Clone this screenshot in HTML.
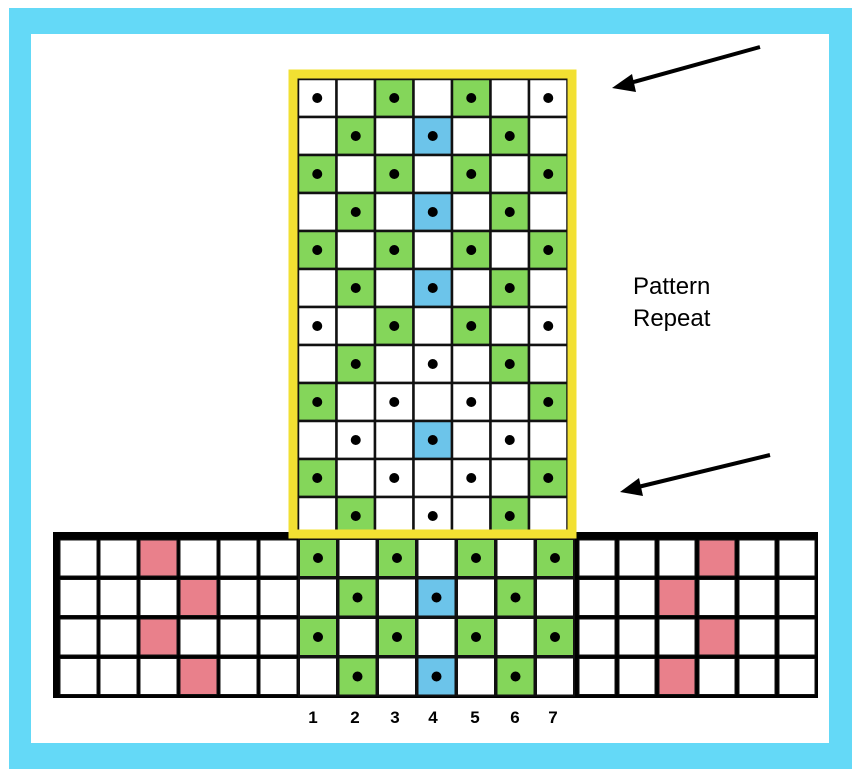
<!DOCTYPE html>
<html><head><style>body{margin:0;background:#fff;width:866px;height:778px;overflow:hidden}</style></head><body>
<svg width="866" height="778" xmlns="http://www.w3.org/2000/svg">
<rect x="9" y="8" width="843" height="761" fill="#64d9f7"/>
<rect x="31" y="34" width="798" height="709" fill="#fff"/>
<rect x="53" y="532" width="765" height="166" fill="#000"/>
<g id="cells"></g>
<rect x="293" y="74" width="279" height="460" fill="none" stroke="#f2e032" stroke-width="9"/>
<g font-family="Liberation Sans, sans-serif" font-weight="bold" font-size="17" text-anchor="middle">
<text x="313" y="723">1</text><text x="355" y="723">2</text><text x="395" y="723">3</text><text x="433" y="723">4</text><text x="475" y="723">5</text><text x="515" y="723">6</text><text x="553" y="723">7</text>
</g>
<text x="633" y="294" font-family="Liberation Sans, sans-serif" font-size="24">Pattern</text>
<text x="633" y="326" font-family="Liberation Sans, sans-serif" font-size="24">Repeat</text>
<line x1="760" y1="47" x2="630" y2="83" stroke="#000" stroke-width="4"/>
<polygon points="612,88 632,74 636,92" fill="#000"/>
<line x1="770" y1="455" x2="638" y2="487" stroke="#000" stroke-width="4"/>
<polygon points="620,492 639,478 643,496" fill="#000"/>
</svg>
<script>
(function(){
var g=document.getElementById('cells');var ns='http://www.w3.org/2000/svg';
var C={G:'#84d65a',B:'#6cc4ea',W:'#fff',D:'#fff',P:'#e9808b'};
function cell(x,y,w,h,t,sw){var r=document.createElementNS(ns,'rect');r.setAttribute('x',x);r.setAttribute('y',y);r.setAttribute('width',w);r.setAttribute('height',h);r.setAttribute('fill',C[t]);r.setAttribute('stroke','#111');r.setAttribute('stroke-width',sw);g.appendChild(r);
if(t=='G'||t=='B'||t=='D'){var c=document.createElementNS(ns,'circle');c.setAttribute('cx',x+w/2);c.setAttribute('cy',y+h/2);c.setAttribute('r',5);c.setAttribute('fill','#000');g.appendChild(c);}}
var tp=["DWGWGWD","WGWBWGW","GWGWGWG","WGWBWGW","GWGWGWG","WGWBWGW","DWGWGWD","WGWDWGW","GWDWDWG","WDWBWDW","GWDWDWG","WGWDWGW"];
for(var i=0;i<tp.length;i++)for(var j=0;j<7;j++)cell(298+j*38.5,79+i*38,38.5,38,tp[i][j],2.5);
var bm=["GWGWGWG","WGWBWGW","GWGWGWG","WGWBWGW"];
var L=["WWPWWW","WWWPWW","WWPWWW","WWWPWW"],R=["WWWPWW","WWPWWW","WWWPWW","WWPWWW"];
for(var i=0;i<4;i++){var y=540+i*39.5;
for(var j=0;j<6;j++)cell(60+j*40,y,37,36,L[i][j],1);
for(var j=0;j<7;j++)cell(299+j*39.5,y-1,38,38,bm[i][j],2);
for(var j=0;j<6;j++)cell(579+j*40,y,36,36,R[i][j],1);}
})();
</script>
</body></html>
